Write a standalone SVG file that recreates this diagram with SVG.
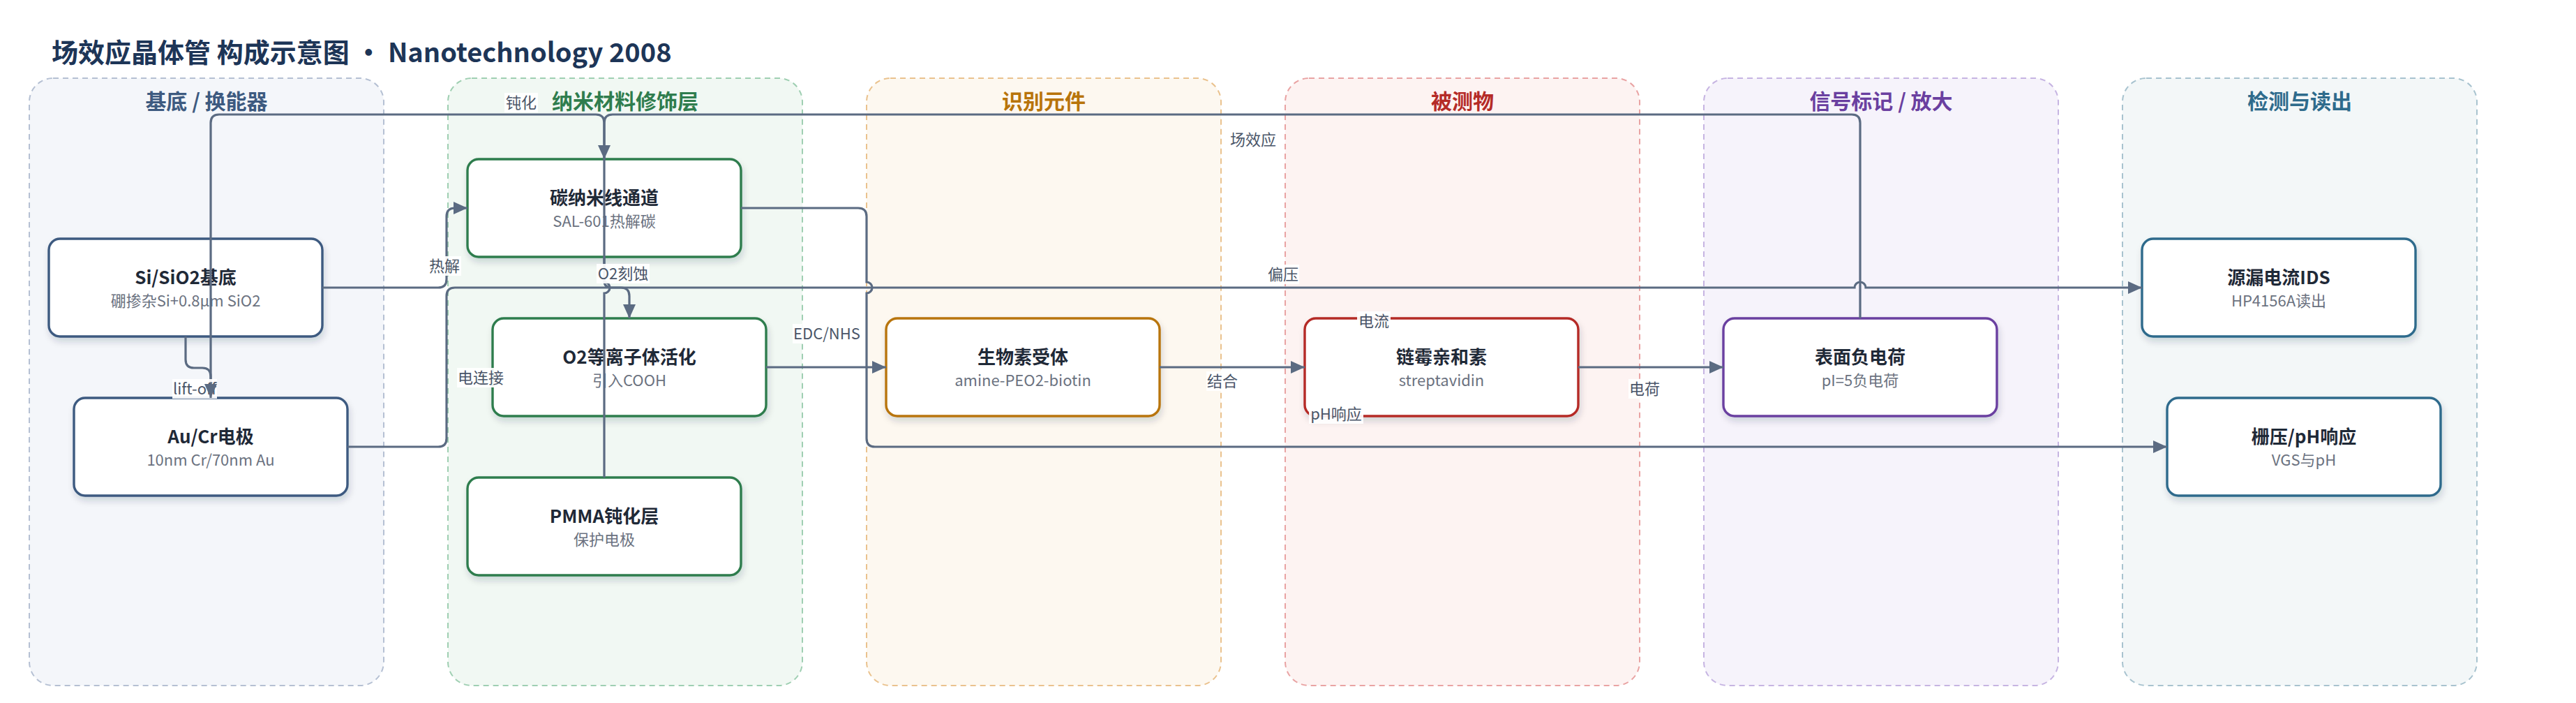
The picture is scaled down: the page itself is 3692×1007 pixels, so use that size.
<svg xmlns="http://www.w3.org/2000/svg" width="3692" height="1007" viewBox="0 0 3692 1007">
<defs>
<style>
text{font-family:"Noto Sans CJK SC","Noto Sans",sans-serif;}
.title{font-size:38px;font-weight:700;fill:#1d3557;}
.glabel{font-size:30px;font-weight:700;text-anchor:middle;}
.grp{stroke-width:2;stroke-dasharray:8 6;}
.node rect{fill:#ffffff;stroke-width:3.4;filter:url(#sh);}
.nt{font-size:26px;font-weight:700;fill:#1f2937;text-anchor:middle;}
.ns{font-size:22px;fill:#6b7280;text-anchor:middle;}
.edge{fill:none;stroke:#5b6b82;stroke-width:3.2;}
.arr{marker-end:url(#ah);}
.lb rect{fill:#ffffff;fill-opacity:0.92;}
.lb text{font-size:22px;fill:#4a5568;text-anchor:middle;}
</style>
<filter id="sh" x="-10%" y="-10%" width="125%" height="140%">
<feDropShadow dx="2" dy="6" stdDeviation="5" flood-color="#1f2937" flood-opacity="0.16"/>
</filter>
<marker id="ah" markerUnits="userSpaceOnUse" markerWidth="22" markerHeight="20" refX="20" refY="10" orient="auto">
<path d="M0,1 L20,10 L0,19 z" fill="#5b6b82"/>
</marker>
</defs>
<rect width="3692" height="1007" fill="#ffffff"/>
<text class="title" x="74" y="89">场效应晶体管 构成示意图 · Nanotechnology 2008</text>

<g id="groups">
<g id="g-substrate"><rect class="grp" x="42" y="112" width="508" height="870" rx="34" fill="#f4f6fa" stroke="#b5c0d3"/><text class="glabel" x="296" y="156" fill="#3d5a80">基底 / 换能器</text></g>
<g id="g-nano"><rect class="grp" x="642" y="112" width="508" height="870" rx="34" fill="#f1f8f3" stroke="#9fcfb2"/><text class="glabel" x="896" y="156" fill="#2f7d4e">纳米材料修饰层</text></g>
<g id="g-recog"><rect class="grp" x="1242" y="112" width="508" height="870" rx="34" fill="#fdf8f0" stroke="#eac28e"/><text class="glabel" x="1496" y="156" fill="#b8740a">识别元件</text></g>
<g id="g-analyte"><rect class="grp" x="1842" y="112" width="508" height="870" rx="34" fill="#fdf3f2" stroke="#e9a3a3"/><text class="glabel" x="2096" y="156" fill="#b52b27">被测物</text></g>
<g id="g-signal"><rect class="grp" x="2442" y="112" width="508" height="870" rx="34" fill="#f6f3fb" stroke="#c6b4e2"/><text class="glabel" x="2696" y="156" fill="#6a3fa0">信号标记 / 放大</text></g>
<g id="g-readout"><rect class="grp" x="3042" y="112" width="508" height="870" rx="34" fill="#f3f7f8" stroke="#a8c3cf"/><text class="glabel" x="3296" y="156" fill="#2e6b8c">检测与读出</text></g>
</g>

<g id="nodes">
<g id="n-si" class="node"><rect x="70" y="342" width="392" height="140" rx="16" stroke="#3d5a80"/><text class="nt" x="266" y="407">Si/SiO2基底</text><text class="ns" x="266" y="439">硼掺杂Si+0.8μm SiO2</text></g>
<g id="n-au" class="node"><rect x="106" y="570" width="392" height="140" rx="16" stroke="#3d5a80"/><text class="nt" x="302" y="635">Au/Cr电极</text><text class="ns" x="302" y="667">10nm Cr/70nm Au</text></g>
<g id="n-cnw" class="node"><rect x="670" y="228" width="392" height="140" rx="16" stroke="#2f7d4e"/><text class="nt" x="866" y="293">碳纳米线通道</text><text class="ns" x="866" y="325">SAL-601热解碳</text></g>
<g id="n-o2" class="node"><rect x="706" y="456" width="392" height="140" rx="16" stroke="#2f7d4e"/><text class="nt" x="902" y="521">O2等离子体活化</text><text class="ns" x="902" y="553">引入COOH</text></g>
<g id="n-pmma" class="node"><rect x="670" y="684" width="392" height="140" rx="16" stroke="#2f7d4e"/><text class="nt" x="866" y="749">PMMA钝化层</text><text class="ns" x="866" y="781">保护电极</text></g>
<g id="n-biotin" class="node"><rect x="1270" y="456" width="392" height="140" rx="16" stroke="#b8740a"/><text class="nt" x="1466" y="521">生物素受体</text><text class="ns" x="1466" y="553">amine-PEO2-biotin</text></g>
<g id="n-strep" class="node"><rect x="1870" y="456" width="392" height="140" rx="16" stroke="#b52b27"/><text class="nt" x="2066" y="521">链霉亲和素</text><text class="ns" x="2066" y="553">streptavidin</text></g>
<g id="n-charge" class="node"><rect x="2470" y="456" width="392" height="140" rx="16" stroke="#6a3fa0"/><text class="nt" x="2666" y="521">表面负电荷</text><text class="ns" x="2666" y="553">pI=5负电荷</text></g>
<g id="n-ids" class="node"><rect x="3070" y="342" width="392" height="140" rx="16" stroke="#2e6b8c"/><text class="nt" x="3266" y="407">源漏电流IDS</text><text class="ns" x="3266" y="439">HP4156A读出</text></g>
<g id="n-vgs" class="node"><rect x="3106" y="570" width="392" height="140" rx="16" stroke="#2e6b8c"/><text class="nt" x="3302" y="635">栅压/pH响应</text><text class="ns" x="3302" y="667">VGS与pH</text></g>
</g>

<g id="connectors">
<path class="edge arr" d="M866 684 V420 A8 8 0 0 0 866 404 V176 Q866 164 854 164 H314 Q302 164 302 176 V570"/>
<path class="edge arr" d="M2666 456 V176 Q2666 164 2654 164 H878 Q866 164 866 176 V228"/>
<path class="edge arr" d="M462 412 H628 Q640 412 640 400 V310 Q640 298 652 298 H670"/>
<path class="edge arr" d="M266 482 V515 Q266 527 278 527 H290 Q302 527 302 539 V570"/>
<path class="edge arr" d="M498 640 H628 Q640 640 640 628 V424 Q640 412 652 412 H2658 A8 8 0 0 1 2674 412 H3070"/>
<path class="edge arr" d="M866 368 V402 Q866 412 876 412 H890 Q902 412 902 424 V456"/>
<path class="edge arr" d="M1098 526 H1270"/>
<path class="edge arr" d="M1062 298 H1230 Q1242 298 1242 310 V404 A8 8 0 0 1 1242 420 V628 Q1242 640 1254 640 H3106"/>
<path class="edge arr" d="M1662 526 H1870"/>
<path class="edge arr" d="M2262 526 H2470"/>
</g>

<g id="edge-labels">
<g class="lb"><rect x="723" y="133" width="48" height="28"/><text x="747" y="155">钝化</text></g>
<g class="lb"><rect x="613" y="367" width="48" height="28"/><text x="637" y="389">热解</text></g>
<g class="lb"><rect x="247" y="543" width="64" height="28"/><text x="279" y="565">lift-off</text></g>
<g class="lb"><rect x="855" y="378" width="76" height="28"/><text x="893" y="400">O2刻蚀</text></g>
<g class="lb"><rect x="655" y="527" width="68" height="28"/><text x="689" y="549">电连接</text></g>
<g class="lb"><rect x="1136" y="464" width="99" height="28"/><text x="1185" y="486">EDC/NHS</text></g>
<g class="lb"><rect x="1761" y="186" width="70" height="28"/><text x="1796" y="208">场效应</text></g>
<g class="lb"><rect x="1816" y="379" width="46" height="28"/><text x="1839" y="401">偏压</text></g>
<g class="lb"><rect x="1729" y="532" width="46" height="28"/><text x="1752" y="554">结合</text></g>
<g class="lb"><rect x="1945" y="446" width="48" height="28"/><text x="1969" y="468">电流</text></g>
<g class="lb"><rect x="1876" y="579" width="78" height="28"/><text x="1915" y="601">pH响应</text></g>
<g class="lb"><rect x="2334" y="543" width="48" height="28"/><text x="2357" y="565">电荷</text></g>
</g>

<g id="connector-tips">
<path class="edge arr" d="M302 548 V570"/>
</g>
</svg>
